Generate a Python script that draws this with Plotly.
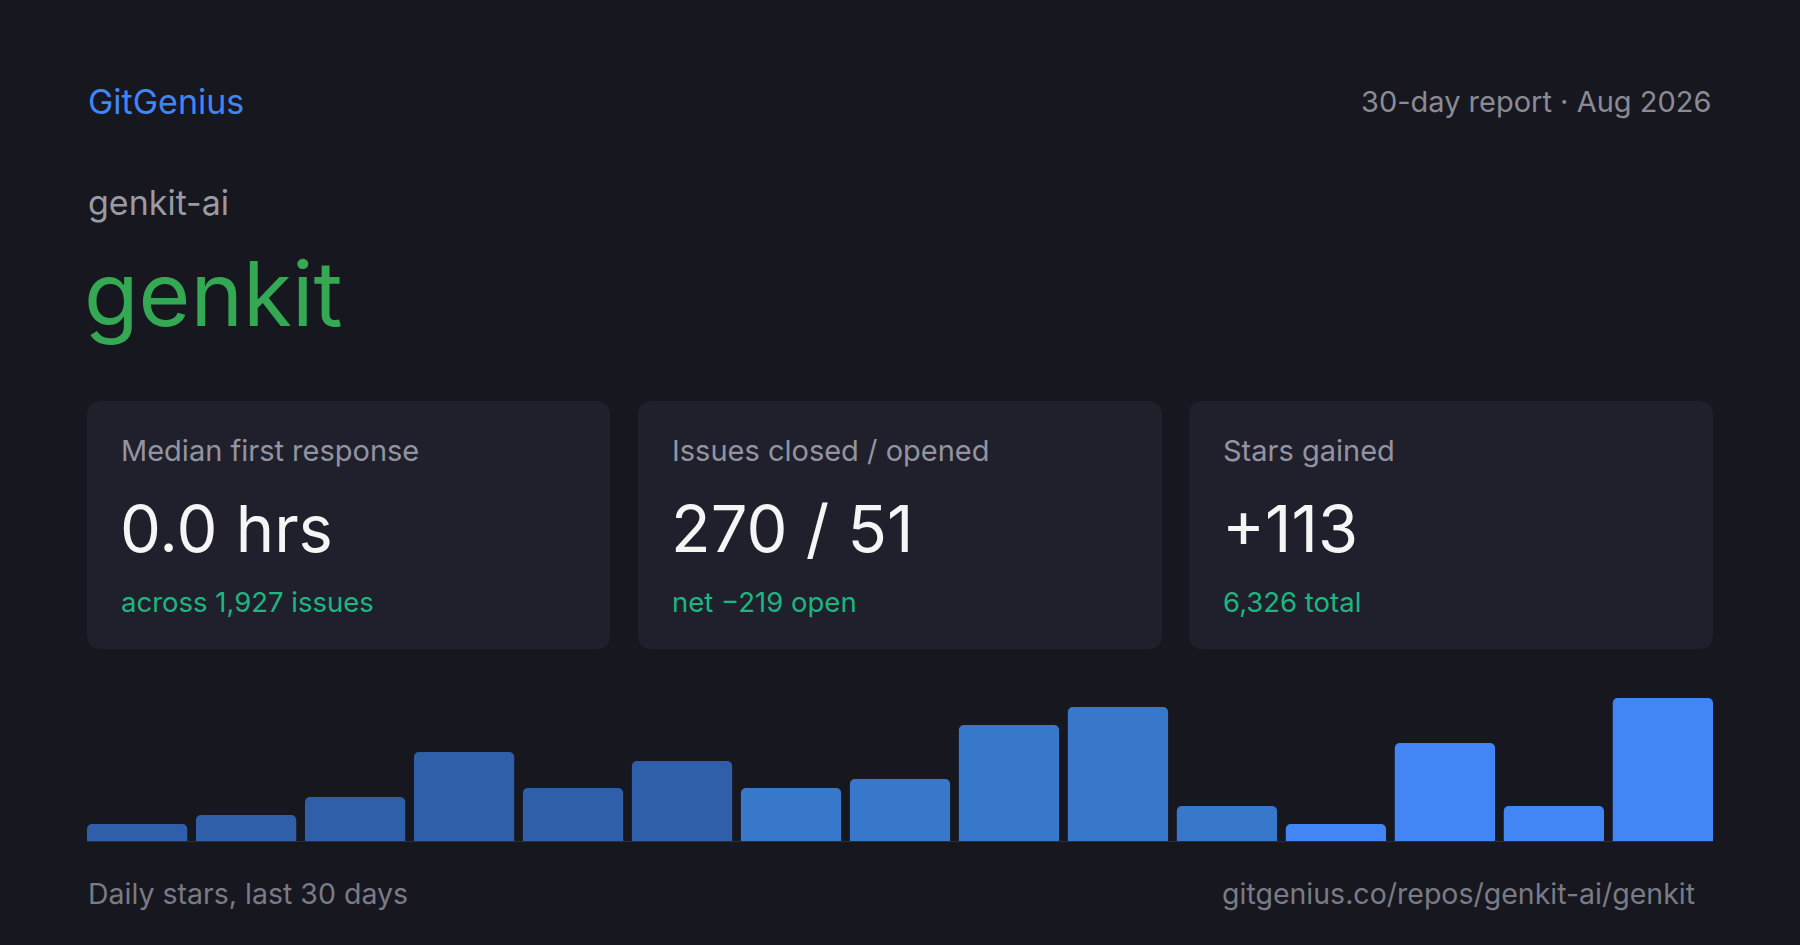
import plotly.graph_objects as go

W, H = 1800, 945

# daily stars, bucketed in 2-day bins over the last 30 days
bins = list(range(1, 16))
stars = [2, 3, 5, 10, 6, 9, 6, 7, 13, 15, 4, 2, 11, 4, 16]

card_labels = ["Median first response", "Issues closed / opened", "Stars gained"]
card_values = ["0.0 hrs", "270 / 51", "+113"]
card_notes = ["across 1,927 issues", "net \u2212219 open", "6,326 total"]

BG = "#16171f"
CARD = "#1f202c"
FONT = "Inter, Noto Sans, sans-serif"

bar_colors = ["#2f5fa9"] * 6 + ["#3878cb"] * 5 + ["#4285f4"] * 4
BARGAP = 0.08


def px(x):
    return x / W


def py(y):
    return 1 - y / H


def rounded_rect(x0, y0, x1, y1, r):
    # pixel box -> paper path with rounded corners
    rx, ry = r / W, r / H
    a, b, c, d = px(x0), py(y0), px(x1), py(y1)
    return (f"M{a + rx},{b} L{c - rx},{b} Q{c},{b} {c},{b - ry} "
            f"L{c},{d + ry} Q{c},{d} {c - rx},{d} "
            f"L{a + rx},{d} Q{a},{d} {a},{d + ry} "
            f"L{a},{b - ry} Q{a},{b} {a + rx},{b} Z")


fig = go.Figure(go.Bar(
    x=bins, y=stars,
    marker=dict(color=bar_colors, line=dict(width=0)),
    hovertemplate="%{y} stars<extra></extra>",
))

shapes = []
card_x = [(87, 610), (638, 1162), (1189, 1713)]
for x0, x1 in card_x:
    shapes.append(dict(type="path", path=rounded_rect(x0, 401, x1, 649, 14),
                       xref="paper", yref="paper", fillcolor=CARD,
                       line=dict(width=0), layer="below"))
shapes.append(dict(type="line", xref="paper", yref="y", x0=px(87), x1=px(1713),
                   y0=0, y1=0, line=dict(color="#2c2d3a", width=2)))

# widen the axis domain so the outer bar edges land on the card edges
pitch = (1713 - 87) / (len(bins) - BARGAP)
pad = pitch * BARGAP / 2

ann = []


def text(x, y, s, size, color, anchor="left"):
    ann.append(dict(x=px(x), y=py(y), xref="paper", yref="paper", text=s,
                    showarrow=False, xanchor=anchor, yanchor="middle",
                    font=dict(family=FONT, size=size, color=color)))


text(86, 101, "GitGenius", 34, "#4285f4")
text(1713, 101, "30-day report \u00b7 Aug 2026", 29, "#8a8b95", "right")
text(86, 203, "genkit-ai", 34, "#9a9aa3")
text(82, 293, "genkit", 89, "#34a853")

for (x0, x1), lab, val, note in zip(card_x, card_labels, card_values, card_notes):
    text(x0 + 32, 450, lab, 29, "#9394a0")
    text(x0 + 31, 528, val, 65, "#f5f5f5")
    text(x0 + 32, 602, note, 27.5, "#1db681")

text(86, 893, "Daily stars, last 30 days", 28.5, "#7a7b86")
text(1697, 893, "gitgenius.co/repos/genkit-ai/genkit", 28.5, "#7a7b86", "right")

fig.update_layout(
    width=W, height=H,
    margin=dict(l=0, r=0, t=0, b=0),
    paper_bgcolor=BG, plot_bgcolor=BG,
    showlegend=False,
    bargap=BARGAP,
    barcornerradius=5,
    shapes=shapes,
    annotations=ann,
    xaxis=dict(domain=[px(87 - pad), px(1713 + pad)], range=[0.5, 15.5],
               visible=False, fixedrange=True),
    yaxis=dict(domain=[py(842), py(698)], range=[0, 16], visible=False,
               fixedrange=True),
)

fig.write_html(
    "out.html",
    config={"displayModeBar": False},
    post_script="document.body.style.margin='0';"
                "document.body.style.background='" + BG + "';",
)
